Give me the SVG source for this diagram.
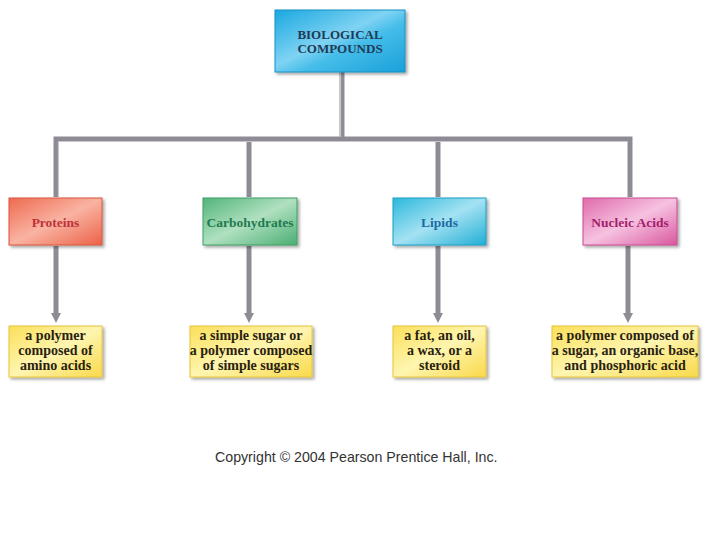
<svg xmlns="http://www.w3.org/2000/svg" width="720" height="540" viewBox="0 0 720 540">
<style>
.lbl{font-family:"Liberation Serif","DejaVu Serif",serif;font-weight:bold;text-anchor:middle}
.mid{font-size:13.5px}
.desc{font-size:14px;fill:#2a1f10}
.wire{fill:none;stroke:#8f8b94;stroke-width:5}
.hl{fill:none;stroke:#c9c6cc;stroke-width:1.2}
.copy{font-family:"Liberation Sans",Arial,sans-serif;font-size:14.2px;fill:#333}
</style>
<defs>
<filter id="sh" x="-10%" y="-10%" width="125%" height="135%">
<feDropShadow dx="2" dy="2" stdDeviation="1.5" flood-color="#000" flood-opacity="0.35"/>
</filter>
<linearGradient id="gTop" x1="0" y1="0" x2="1" y2="1">
<stop offset="0" stop-color="#1aa8e0"/><stop offset="0.45" stop-color="#7fd3f3"/><stop offset="0.6" stop-color="#45bde9"/><stop offset="1" stop-color="#1aa0da"/>
</linearGradient>
<linearGradient id="gPro" x1="0" y1="0" x2="1" y2="1">
<stop offset="0" stop-color="#ee6a50"/><stop offset="0.5" stop-color="#f9b3a2"/><stop offset="1" stop-color="#ec6248"/>
</linearGradient>
<linearGradient id="gCar" x1="0" y1="0" x2="1" y2="1">
<stop offset="0" stop-color="#52b57a"/><stop offset="0.5" stop-color="#b0e0c0"/><stop offset="1" stop-color="#4aae72"/>
</linearGradient>
<linearGradient id="gLip" x1="0" y1="0" x2="1" y2="1">
<stop offset="0" stop-color="#2cb8dc"/><stop offset="0.5" stop-color="#a4e2f2"/><stop offset="1" stop-color="#22aed5"/>
</linearGradient>
<linearGradient id="gNuc" x1="0" y1="0" x2="1" y2="1">
<stop offset="0" stop-color="#e06aac"/><stop offset="0.5" stop-color="#f6c2e0"/><stop offset="1" stop-color="#d9579f"/>
</linearGradient>
<linearGradient id="gY" x1="0" y1="0" x2="1" y2="1">
<stop offset="0" stop-color="#fbe05a"/><stop offset="0.5" stop-color="#fef5b0"/><stop offset="1" stop-color="#f9d94a"/>
</linearGradient>
<marker id="ah" viewBox="0 0 10 10" refX="2" refY="5" markerWidth="2" markerHeight="2.6" orient="auto" markerUnits="strokeWidth">
<path d="M0,0 L10,5 L0,10 Z" fill="#8f8b94"/>
</marker>
</defs>

<g id="connectors">
<path class="wire" d="M342,72 V139"/>
<path class="wire" d="M56,197 V139 H630 V197"/>
<path class="wire" d="M249,139 V197"/>
<path class="wire" d="M438,139 V197"/>
<path class="wire" d="M56,246 V315" marker-end="url(#ah)"/>
<path class="wire" d="M249,246 V315" marker-end="url(#ah)"/>
<path class="wire" d="M438,246 V315" marker-end="url(#ah)"/>
<path class="wire" d="M628,246 V315" marker-end="url(#ah)"/>
<path class="hl" d="M58.5,196 V141.5 H627.5 M340.5,72 V137"/>
</g>

<g id="node-biological-compounds">
<rect x="275" y="10" width="130" height="62" fill="url(#gTop)" stroke="#1790c4" stroke-width="1" filter="url(#sh)"/>
<text class="lbl" x="340" y="39" font-size="13" fill="#1f3b58">BIOLOGICAL</text>
<text class="lbl" x="340" y="53" font-size="13" fill="#1f3b58">COMPOUNDS</text>
</g>

<g id="node-proteins">
<rect x="9" y="198" width="93" height="47" fill="url(#gPro)" stroke="#d9553c" stroke-width="1" filter="url(#sh)"/>
<text class="lbl mid" x="55.5" y="227" fill="#c0323a">Proteins</text>
</g>
<g id="node-carbohydrates">
<rect x="203" y="198" width="94" height="47" fill="url(#gCar)" stroke="#3f9e65" stroke-width="1" filter="url(#sh)"/>
<text class="lbl mid" x="250" y="227" fill="#1f7a4e">Carbohydrates</text>
</g>
<g id="node-lipids">
<rect x="393" y="198" width="93" height="47" fill="url(#gLip)" stroke="#1c9ec4" stroke-width="1" filter="url(#sh)"/>
<text class="lbl mid" x="439.5" y="227" fill="#1b6aa2">Lipids</text>
</g>
<g id="node-nucleic-acids">
<rect x="583" y="198" width="94" height="47" fill="url(#gNuc)" stroke="#c84a90" stroke-width="1" filter="url(#sh)"/>
<text class="lbl mid" x="630" y="227" fill="#a41e6c">Nucleic Acids</text>
</g>

<g id="node-proteins-desc">
<rect x="9" y="326" width="93" height="51" fill="url(#gY)" stroke="#e8c43a" stroke-width="1" filter="url(#sh)"/>
<text class="lbl desc" x="55.5" y="340">a polymer</text>
<text class="lbl desc" x="55.5" y="355">composed of</text>
<text class="lbl desc" x="55.5" y="370">amino acids</text>
</g>
<g id="node-carbohydrates-desc">
<rect x="190" y="326" width="122" height="51" fill="url(#gY)" stroke="#e8c43a" stroke-width="1" filter="url(#sh)"/>
<text class="lbl desc" x="251" y="340">a simple sugar or</text>
<text class="lbl desc" x="251" y="355">a polymer composed</text>
<text class="lbl desc" x="251" y="370">of simple sugars</text>
</g>
<g id="node-lipids-desc">
<rect x="393" y="326" width="93" height="51" fill="url(#gY)" stroke="#e8c43a" stroke-width="1" filter="url(#sh)"/>
<text class="lbl desc" x="439.5" y="340">a fat, an oil,</text>
<text class="lbl desc" x="439.5" y="355">a wax, or a</text>
<text class="lbl desc" x="439.5" y="370">steroid</text>
</g>
<g id="node-nucleic-acids-desc">
<rect x="552" y="326" width="146" height="51" fill="url(#gY)" stroke="#e8c43a" stroke-width="1" filter="url(#sh)"/>
<text class="lbl desc" x="625" y="340">a polymer composed of</text>
<text class="lbl desc" x="625" y="355">a sugar, an organic base,</text>
<text class="lbl desc" x="625" y="370">and phosphoric acid</text>
</g>

<text class="copy" x="215" y="462">Copyright © 2004 Pearson Prentice Hall, Inc.</text>
</svg>
